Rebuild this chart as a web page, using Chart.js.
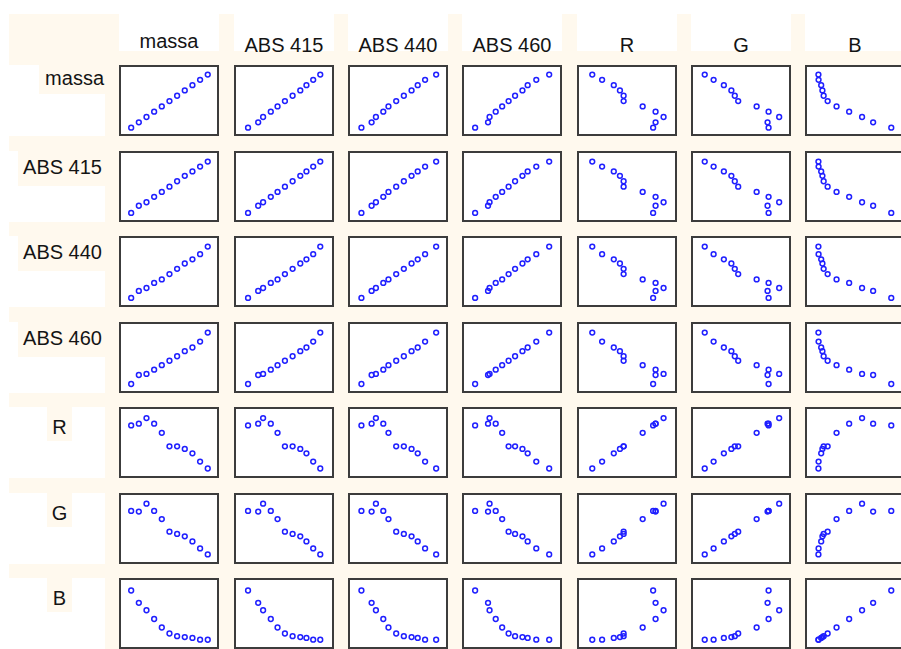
<!DOCTYPE html>
<html>
<head>
<meta charset="utf-8">
<title>Matriz de dispersão</title>
<script src="https://cdn.jsdelivr.net/npm/chart.js@4.4.1/dist/chart.umd.min.js"></script>
<style>
  html, body { margin: 0; padding: 0; background: #ffffff; }
  #sheet { position: relative; width: 901px; height: 649px; overflow: hidden; background: #ffffff;
           font-family: "Liberation Sans", Arial, sans-serif; color: #141414; }
  #cream { position: absolute; left: 9px; top: 14px; right: 0; bottom: 0; background: #FFF9EE; }
  .head { position: absolute; top: 14px; width: 100px; height: 37px; background: #ffffff; }
  .head span { position: absolute; left: -10px; right: -10px; text-align: center; font-size: 20px;
               line-height: 20px; white-space: nowrap; }
  .rowcell { position: absolute; left: 0; width: 105px; height: 71px; background: #ffffff; }
  .rowlab { position: absolute; background: #FFF9EE; font-size: 20px; line-height: 20px; white-space: nowrap; }
  .panel { position: absolute; width: 100px; height: 71px; }
  .panel canvas { display: block; }
</style>
</head>
<body>
<div id="sheet"><div id="cream"></div></div>
<script>
// Variable names (row and column labels of the matrix)
const variables = ['massa', 'ABS 415', 'ABS 440', 'ABS 460', 'R', 'G', 'B'];

// Observations, one entry per sample
const massa  = [0, 1, 2, 3, 4, 5, 6, 7, 8, 9, 10];
const abs415 = [0.050, 0.182, 0.246, 0.346, 0.434, 0.530, 0.630, 0.730, 0.810, 0.898, 0.990];
const abs440 = [0.040, 0.156, 0.205, 0.289, 0.348, 0.436, 0.523, 0.611, 0.681, 0.765, 0.891];
const abs460 = [0.030, 0.156, 0.171, 0.231, 0.294, 0.357, 0.420, 0.492, 0.543, 0.627, 0.753];
const R      = [199, 203, 216, 203, 182, 151, 151, 145, 135, 116, 100];
const G      = [183.5, 182, 199, 183.5, 166, 139, 134, 129, 118, 103, 90];
const B      = [114.8, 91.2, 76.8, 60.0, 43.6, 32.0, 26.8, 25.2, 23.6, 20.2, 20.0];

const series = [massa, abs415, abs440, abs460, R, G, B];

// Axis limits of each variable when used horizontally / vertically
const xMin = [-1.08, -0.082, -0.0685, -0.060, 81.5, 75.6, 7.6];
const xMax = [10.96,  1.118,  0.9815,  0.840, 231.5, 210.6, 127.6];
const yMin = [-0.84, -0.044, -0.045, -0.042, 87.1, 77.9, 9.7];
const yMax = [11.06,  1.112,  1.002,  0.847, 232.5, 213.6, 131.4];

// Panel grid geometry
const LEFT0 = 119.4, COL_STEP = 114.35;
const TOP0 = 65, ROW_STEP = 85.5;
const PANEL_W = 100, PANEL_H = 71;

const sheet = document.getElementById('sheet');
const colLeft = j => Math.round(LEFT0 + COL_STEP * j);
const rowTop  = i => Math.round(TOP0 + ROW_STEP * i);

// Column headers
variables.forEach((name, j) => {
  const h = document.createElement('div');
  h.className = 'head';
  h.style.left = colLeft(j) + 'px';
  const s = document.createElement('span');
  s.textContent = name;
  s.style.top = (name === 'massa' ? 17 : 21) + 'px';
  h.appendChild(s);
  sheet.appendChild(h);
});

// Row label cells
variables.forEach((name, i) => {
  const cell = document.createElement('div');
  cell.className = 'rowcell';
  cell.style.top = rowTop(i) + 'px';
  sheet.appendChild(cell);

  const lab = document.createElement('div');
  lab.className = 'rowlab';
  lab.textContent = name;
  lab.style.top = rowTop(i) + 'px';
  if (name.length > 1) {
    lab.style.right = (901 - 105) + 'px';
    lab.style.padding = (name === 'massa' ? '3px 1px 6px 6px' : '6px 3px 9px 5px');
  } else {
    lab.style.left = '47px';
    lab.style.width = '25px';
    lab.style.textAlign = 'center';
    lab.style.padding = '10px 0 4px 0';
  }
  sheet.appendChild(lab);
});

// Frame around each panel
const framePlugin = {
  id: 'panelFrame',
  beforeDraw(chart) {
    const c = chart.ctx;
    c.save();
    c.fillStyle = '#ffffff';
    c.fillRect(0, 0, chart.width, chart.height);
    c.restore();
  },
  afterDraw(chart) {
    const c = chart.ctx;
    c.save();
    c.strokeStyle = '#3c3c3c';
    c.lineWidth = 2;
    c.strokeRect(1, 1, chart.width - 2, chart.height - 2);
    c.restore();
  }
};

// One scatter panel per (row variable, column variable) pair
for (let i = 0; i < variables.length; i++) {
  for (let j = 0; j < variables.length; j++) {
    const wrap = document.createElement('div');
    wrap.className = 'panel';
    wrap.style.left = colLeft(j) + 'px';
    wrap.style.top = rowTop(i) + 'px';
    const cv = document.createElement('canvas');
    cv.width = PANEL_W;
    cv.height = PANEL_H;
    wrap.appendChild(cv);
    sheet.appendChild(wrap);

    const pts = series[j].map((xv, k) => ({ x: xv, y: series[i][k] }));
    new Chart(cv, {
      type: 'scatter',
      data: {
        datasets: [{
          data: pts,
          pointStyle: 'circle',
          pointRadius: 2.4,
          pointHoverRadius: 2.4,
          pointBorderWidth: 1.5,
          borderColor: '#1f1fff',
          backgroundColor: 'rgba(255,255,255,0)',
          clip: false
        }]
      },
      options: {
        responsive: false,
        animation: false,
        devicePixelRatio: 1,
        layout: { padding: 0 },
        events: [],
        plugins: { legend: { display: false }, tooltip: { enabled: false } },
        scales: {
          x: { type: 'linear', display: false, min: xMin[j], max: xMax[j] },
          y: { type: 'linear', display: false, min: yMin[i], max: yMax[i] }
        }
      },
      plugins: [framePlugin]
    });
  }
}
</script>
</body>
</html>
